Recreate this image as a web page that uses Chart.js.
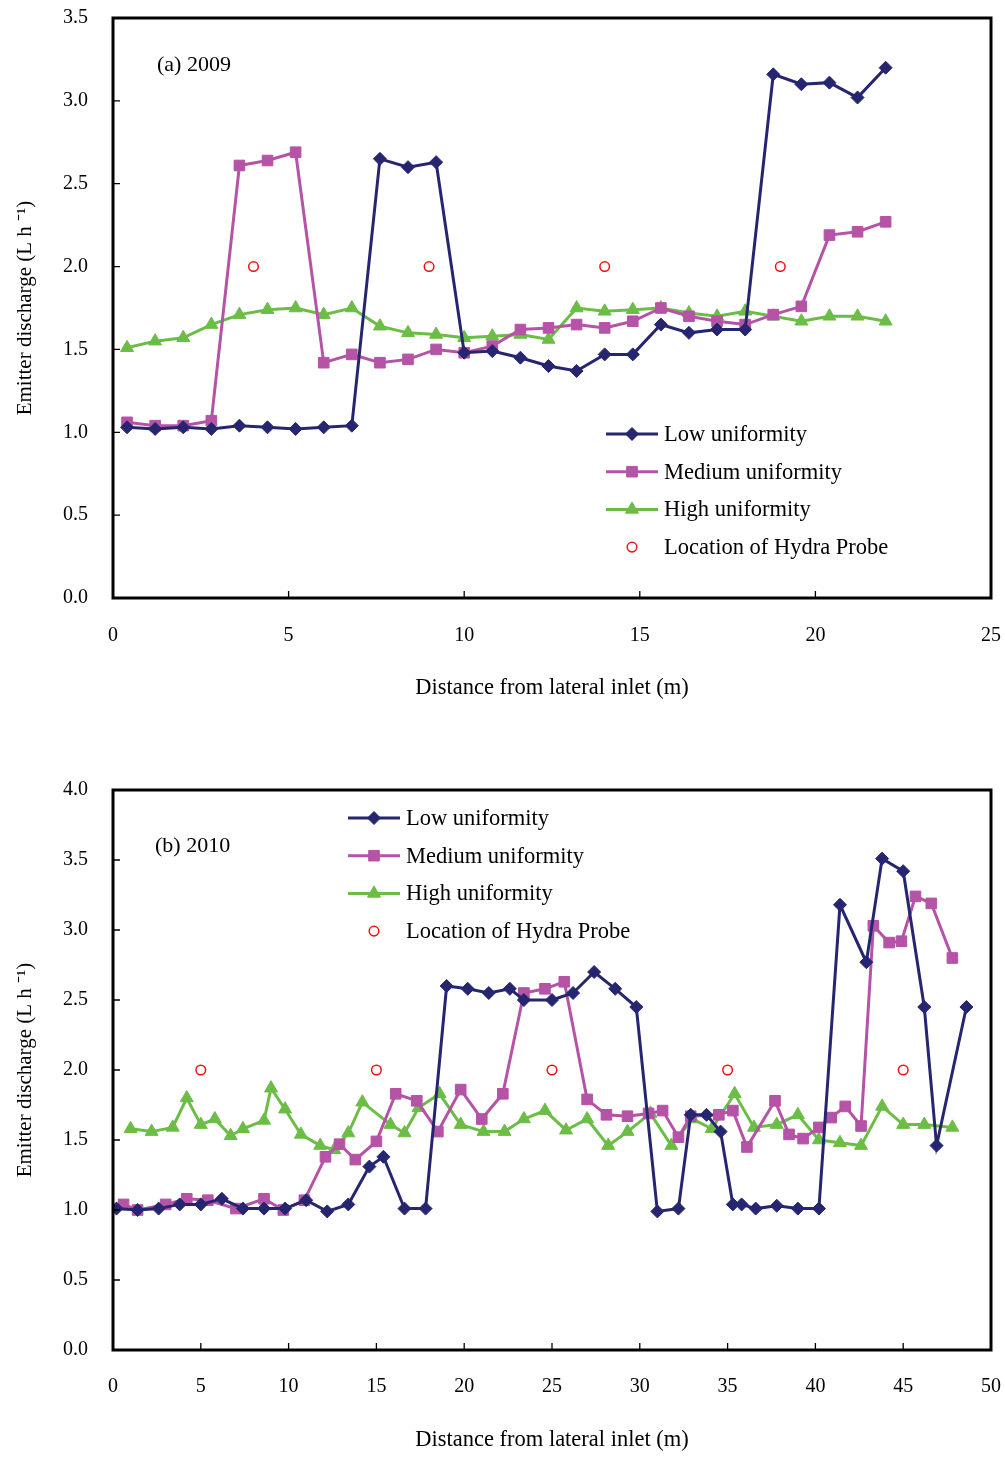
<!DOCTYPE html>
<html><head><meta charset="utf-8">
<script src="https://cdn.jsdelivr.net/npm/chart.js@4.4.1/dist/chart.umd.min.js"></script>
<style>
html,body{margin:0;padding:0;background:#fff;}
canvas{position:absolute;left:0;}
#c1{top:0;}
#c2{top:720px;}
</style></head><body>
<canvas id="c1" width="1005" height="720" style="width:1005px;height:720px"></canvas>
<canvas id="c2" width="1005" height="737" style="width:1005px;height:737px"></canvas>
<script>
// ---------- (a) 2009 ----------
const x2009 = [0.4,1.2,2.0,2.8,3.6,4.4,5.2,6.0,6.8,7.6,8.4,9.2,10.0,10.8,11.6,12.4,13.2,14.0,14.8,15.6,16.4,17.2,18.0,18.8,19.6,20.4,21.2,22.0];
const low2009 = [1.03,1.02,1.03,1.02,1.04,1.03,1.02,1.03,1.04,2.65,2.60,2.63,1.48,1.49,1.45,1.40,1.37,1.47,1.47,1.65,1.60,1.62,1.62,3.16,3.10,3.11,3.02,3.20];
const med2009 = [1.06,1.04,1.04,1.07,2.61,2.64,2.69,1.42,1.47,1.42,1.44,1.50,1.48,1.52,1.62,1.63,1.65,1.63,1.67,1.75,1.70,1.67,1.65,1.71,1.76,2.19,2.21,2.27];
const high2009 = [1.51,1.55,1.57,1.65,1.71,1.74,1.75,1.71,1.75,1.64,1.60,1.59,1.57,1.58,1.59,1.56,1.75,1.73,1.74,1.75,1.72,1.70,1.73,1.70,1.67,1.70,1.70,1.67];
const probeX2009 = [4, 9, 14, 19];
const probeY2009 = [2.0, 2.0, 2.0, 2.0];

// ---------- (b) 2010 ----------
const lowX2010 = [0.2,1.4,2.6,3.8,5.0,6.2,7.4,8.6,9.8,11.0,12.2,13.4,14.6,15.4,16.6,17.8,19.0,20.2,21.4,22.6,23.4,25.0,26.2,27.4,28.6,29.8,31.0,32.2,32.9,33.8,34.6,35.3,35.8,36.6,37.8,39.0,40.2,41.4,42.9,43.8,45.0,46.2,46.9,48.6];
const low2010 = [1.01,1.00,1.01,1.04,1.04,1.08,1.01,1.01,1.01,1.07,0.99,1.04,1.31,1.38,1.01,1.01,2.60,2.58,2.55,2.58,2.50,2.50,2.55,2.70,2.58,2.45,0.99,1.01,1.68,1.68,1.56,1.04,1.04,1.01,1.03,1.01,1.01,3.18,2.77,3.51,3.42,2.45,1.46,2.45];
const medX2010 = [0.6,1.4,3.0,4.2,5.4,7.0,8.6,9.7,10.9,12.1,12.9,13.8,15.0,16.1,17.3,18.5,19.8,21.0,22.2,23.4,24.6,25.7,27.0,28.1,29.3,30.5,31.3,32.2,32.9,34.5,35.3,36.1,37.7,38.5,39.3,40.2,40.9,41.7,42.6,43.3,44.2,44.9,45.7,46.6,47.8];
const med2010 = [1.04,1.00,1.04,1.08,1.07,1.01,1.08,1.00,1.07,1.38,1.47,1.36,1.49,1.83,1.78,1.56,1.86,1.65,1.83,2.55,2.58,2.63,1.79,1.68,1.67,1.69,1.71,1.52,1.67,1.68,1.71,1.45,1.78,1.54,1.51,1.59,1.66,1.74,1.60,3.03,2.91,2.92,3.24,3.19,2.80];
const highX2010 = [1.0,2.2,3.4,4.2,5.0,5.8,6.7,7.4,8.6,9.0,9.8,10.7,11.8,12.6,13.4,14.2,15.8,16.6,17.4,18.6,19.8,21.1,22.3,23.4,24.6,25.8,27.0,28.2,29.3,30.6,31.8,33.0,34.1,35.4,36.5,37.8,39.0,40.2,41.4,42.6,43.8,45.0,46.2,47.8];
const high2010 = [1.58,1.56,1.59,1.80,1.61,1.65,1.53,1.58,1.64,1.87,1.72,1.54,1.46,1.43,1.55,1.77,1.61,1.55,1.73,1.83,1.61,1.56,1.56,1.65,1.71,1.57,1.65,1.46,1.56,1.69,1.46,1.65,1.58,1.83,1.59,1.61,1.68,1.50,1.48,1.46,1.74,1.61,1.61,1.59];
const probeX2010 = [5, 15, 25, 35, 45];
const probeY2010 = [2.0, 2.0, 2.0, 2.0, 2.0];

const seriesNames = ['Low uniformity', 'Medium uniformity', 'High uniformity', 'Location of Hydra Probe'];
const xTitle = 'Distance from lateral inlet (m)';
const yTitle = 'Emitter discharge (L h \u207B\u00B9)';
const panelLabels = ['(a) 2009', '(b) 2010'];

const COLORS = {low:'#262670', med:'#B553A6', high:'#6BBD46', probe:'#F01010'};
const FONT = 'Liberation Serif, Times New Roman, serif';

function pts(xs, ys){ return xs.map((x,i)=>({x:x, y:ys[i]})); }

const styles = [
  {color:COLORS.low, pointStyle:'rectRot', radius:6.5, line:true},
  {color:COLORS.med, pointStyle:'rect', radius:7.5, line:true},
  {color:COLORS.high, pointStyle:'triangle', radius:7.5, line:true},
  {color:COLORS.probe, pointStyle:'circle', radius:4.8, line:false}
];

function makeDatasets(sets){
  return sets.map((d,i)=>{
    const s = styles[i];
    return {
      label: seriesNames[i],
      data: d,
      showLine: s.line,
      borderColor: s.color,
      backgroundColor: s.line ? s.color : 'rgba(0,0,0,0)',
      borderWidth: s.line ? 3 : 0,
      pointStyle: s.pointStyle,
      pointRadius: s.radius,
      pointBackgroundColor: s.line ? s.color : 'rgba(0,0,0,0)',
      pointBorderColor: s.color,
      pointBorderWidth: s.line ? 1 : 1.5,
      tension: 0
    };
  });
}

const framePlugin = {
  id: 'frame',
  afterDraw(chart, args, o){
    const {ctx, chartArea:a, scales} = chart;
    const x = scales.x, y = scales.y;
    ctx.save();
    ctx.strokeStyle = '#000';
    ctx.lineWidth = 1.3;
    ctx.beginPath();
    x.ticks.forEach(t=>{
      const px = x.getPixelForValue(t.value);
      if (px <= a.left + 2 || px >= a.right - 2) return;
      ctx.moveTo(px, a.bottom); ctx.lineTo(px, a.bottom - 7);
    });
    y.ticks.forEach(t=>{
      const py = y.getPixelForValue(t.value);
      if (py <= a.top + 2 || py >= a.bottom - 2) return;
      ctx.moveTo(a.left, py); ctx.lineTo(a.left + 7, py);
    });
    ctx.stroke();
    ctx.lineWidth = 3;
    ctx.strokeRect(a.left, a.top, a.right - a.left, a.bottom - a.top);

    // panel label
    ctx.fillStyle = '#000';
    ctx.font = o.labelFont + 'px ' + FONT;
    ctx.textAlign = 'left'; ctx.textBaseline = 'middle';
    ctx.fillText(o.label, o.labelX, o.labelY);

    // legend
    ctx.font = o.legendFont + 'px ' + FONT;
    seriesNames.forEach((name,i)=>{
      const s = styles[i];
      const yy = o.legY + i * o.legStep;
      if (s.line){
        ctx.strokeStyle = s.color; ctx.lineWidth = 3;
        ctx.beginPath(); ctx.moveTo(o.legX, yy); ctx.lineTo(o.legX + 52, yy); ctx.stroke();
      }
      ctx.fillStyle = s.line ? s.color : 'rgba(0,0,0,0)';
      ctx.strokeStyle = s.color;
      ctx.lineWidth = s.line ? 1 : 1.5;
      Chart.helpers.drawPoint(ctx, {pointStyle:s.pointStyle, radius:s.radius, rotation:0, borderWidth: s.line?1:1.5}, o.legX + 26, yy);
      ctx.fillStyle = '#000';
      ctx.textAlign = 'left'; ctx.textBaseline = 'middle';
      ctx.fillText(name, o.legX + 58, yy + 1);
    });
    ctx.restore();
  }
};

function makeChart(id, cfg){
  const tickFont = {family: FONT, size: 20};
  const xTitleFont = {family: FONT, size: 22.5};
  const yTitleFont = {family: FONT, size: 21};
  const hiddenTicks = {display: true, drawOnChartArea: false, drawTicks: true, color: 'rgba(0,0,0,0)'};
  return new Chart(document.getElementById(id), {
    type: 'scatter',
    data: {datasets: makeDatasets(cfg.sets)},
    plugins: [framePlugin],
    options: {
      responsive: false,
      animation: false,
      devicePixelRatio: 1,
      layout: {padding: {top: cfg.top, right: 14, left: 0, bottom: 0}},
      plugins: {
        legend: {display: false},
        tooltip: {enabled: false},
        frame: cfg.frame
      },
      scales: {
        x: {
          type: 'linear', min: 0, max: cfg.xmax,
          grid: Object.assign({}, hiddenTicks, {tickLength: cfg.xTickGap}),
          border: {display: false},
          ticks: {stepSize: 5, padding: 2, color: '#000', font: tickFont, maxRotation: 0},
          title: {display: true, text: xTitle, color: '#000', font: xTitleFont, padding: {top: 0, bottom: cfg.xTitlePad}},
          afterFit(s){ s.height = cfg.xh; }
        },
        y: {
          type: 'linear', min: 0, max: cfg.ymax,
          grid: Object.assign({}, hiddenTicks, {tickLength: 23}),
          border: {display: false},
          ticks: {stepSize: 0.5, padding: 2, color: '#000', font: tickFont,
                  callback: v => Number(v).toFixed(1)},
          title: {display: true, text: yTitle, color: '#000', font: yTitleFont, padding: {top: 13, bottom: 0}},
          afterFit(s){ s.width = 113; }
        }
      }
    }
  });
}

makeChart('c1', {
  sets: [pts(x2009, low2009), pts(x2009, med2009), pts(x2009, high2009), pts(probeX2009, probeY2009)],
  top: 18, xmax: 25, ymax: 3.5, xh: 122, xTitlePad: 18, xTickGap: 24,
  frame: {label: panelLabels[0], labelX: 157, labelY: 65, labelFont: 22,
          legX: 606, legY: 434, legStep: 37.7, legendFont: 22.5}
});

makeChart('c2', {
  sets: [pts(lowX2010, low2010), pts(medX2010, med2010), pts(highX2010, high2010), pts(probeX2010, probeY2010)],
  top: 70, xmax: 50, ymax: 4.0, xh: 107, xTitlePad: 3, xTickGap: 23,
  frame: {label: panelLabels[1], labelX: 155, labelY: 126, labelFont: 22,
          legX: 348, legY: 98, legStep: 37.7, legendFont: 22.5}
});
</script>
</body></html>
